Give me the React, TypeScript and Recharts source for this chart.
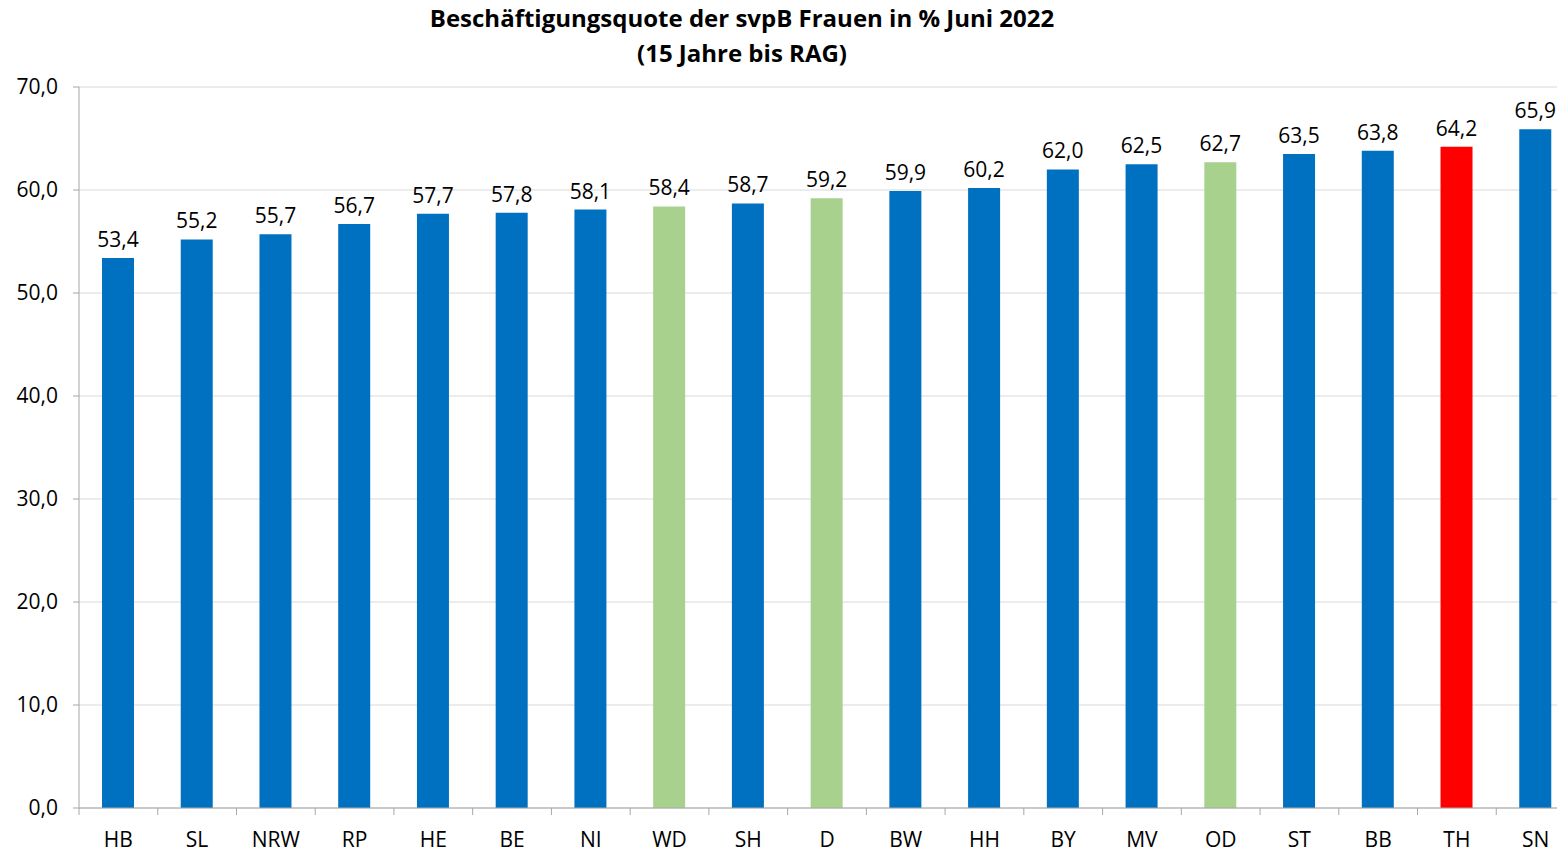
import React from "react";
import { BarChart, Bar, XAxis, YAxis, CartesianGrid, Cell, LabelList } from "recharts";

const regions = ["HB", "SL", "NRW", "RP", "HE", "BE", "NI", "WD", "SH", "D", "BW", "HH", "BY", "MV", "OD", "ST", "BB", "TH", "SN"];
const quotes = [53.4, 55.2, 55.7, 56.7, 57.7, 57.8, 58.1, 58.4, 58.7, 59.2, 59.9, 60.2, 62.0, 62.5, 62.7, 63.5, 63.8, 64.2, 65.9];
const aggregates = ["WD", "D", "OD"];
const highlight = "TH";
const yTicks = [0, 10, 20, 30, 40, 50, 60, 70];

const data = regions.map((region, i) => ({ region, quote: quotes[i] }));

const BLUE = "#0070C0";
const GREEN = "#A9D18E";
const RED = "#FF0000";
const AXIS = "#a6a6a6";
const FONT = "'Open Sans', 'Noto Sans', sans-serif";

const fmt = (v: number) => v.toFixed(1).replace(".", ",");

// the plot runs a little past the right edge of the picture, as in the original
const W = 1575;
const VIEW_W = 1557;
const H = 852;
const LEFT = 79;

function CategoryTick(props: any) {
  const { x, y, payload, index, visibleTicksCount } = props;
  const n = visibleTicksCount || regions.length;
  const band = (W - LEFT) / n;
  return (
    <g>
      <line x1={x - band / 2} x2={x - band / 2} y1={y} y2={y + 7} stroke={AXIS} />
      {index === n - 1 && <line x1={x + band / 2} x2={x + band / 2} y1={y} y2={y + 7} stroke={AXIS} />}
      <text x={x} y={y + 39} textAnchor="middle" fill="#000" fontSize={21} fontFamily={FONT}>
        {payload.value}
      </text>
    </g>
  );
}

export default function App() {
  return (
    <div style={{ position: "absolute", left: 0, top: 0, width: VIEW_W, height: H, overflow: "hidden", background: "#fff" }}>
      <div
        style={{
          position: "absolute",
          left: 0,
          width: 1484,
          top: 0,
          textAlign: "center",
          fontFamily: FONT,
          fontWeight: 700,
          fontSize: 24,
          lineHeight: "35px",
          color: "#000",
        }}
      >
        Beschäftigungsquote der svpB Frauen in % Juni 2022
        <br />
        (15 Jahre bis RAG)
      </div>
      <BarChart width={W} height={H} data={data} margin={{ top: 87, right: 0, bottom: 0, left: 0 }}>
        <CartesianGrid vertical={false} stroke="#d9d9d9" />
        <XAxis
          dataKey="region"
          height={44}
          interval={0}
          stroke={AXIS}
          tickLine={false}
          tickSize={0}
          tickMargin={0}
          tick={<CategoryTick />}
        />
        <YAxis
          width={LEFT}
          domain={[0, 70]}
          ticks={yTicks}
          tickFormatter={fmt}
          stroke={AXIS}
          tickSize={6}
          tickMargin={15}
          tick={{ fill: "#000", fontSize: 21, fontFamily: FONT }}
          interval={0}
        />
        <Bar dataKey="quote" barSize={32} isAnimationActive={false}>
          {data.map((d) => (
            <Cell key={d.region} fill={d.region === highlight ? RED : aggregates.includes(d.region) ? GREEN : BLUE} />
          ))}
          <LabelList
            dataKey="quote"
            position="top"
            offset={11}
            formatter={(v: any) => fmt(Number(v))}
            fill="#000"
            fontSize={21}
            fontFamily={FONT}
          />
        </Bar>
      </BarChart>
    </div>
  );
}
